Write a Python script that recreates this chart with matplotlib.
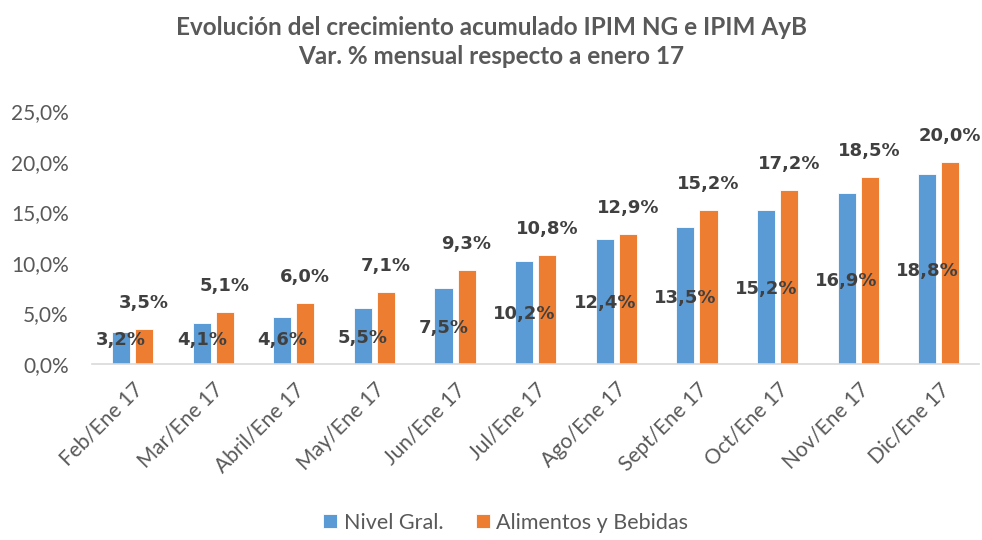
import numpy as np
import matplotlib
matplotlib.use("Agg")
import matplotlib.pyplot as plt
from matplotlib.ticker import FuncFormatter

# data
categorias = ["Feb/Ene 17", "Mar/Ene 17", "Abril/Ene 17", "May/Ene 17", "Jun/Ene 17",
              "Jul/Ene 17", "Ago/Ene 17", "Sept/Ene 17", "Oct/Ene 17", "Nov/Ene 17",
              "Dic/Ene 17"]
nivel_gral = [3.2, 4.1, 4.6, 5.5, 7.5, 10.2, 12.4, 13.5, 15.2, 16.9, 18.8]
alimentos = [3.5, 5.1, 6.0, 7.1, 9.3, 10.8, 12.9, 15.2, 17.2, 18.5, 20.0]
serie_labels = ["Nivel Gral.", "Alimentos y Bebidas"]
yticks = [0, 5, 10, 15, 20, 25]

BLUE = "#5B9BD5"
ORANGE = "#ED7D31"
GRAY = "#595959"
DARK = "#404040"

plt.rcParams['font.family'] = ['Lato', 'DejaVu Sans']

fig = plt.figure(figsize=(9.82, 5.4), dpi=100)
ax = fig.add_axes([0.094, 0.326, 0.903, 0.468])

x = np.arange(len(categorias))
w = 0.225
b1 = ax.bar(x - 0.143, nivel_gral, w, color=BLUE, edgecolor="white", linewidth=0.6,
            label=serie_labels[0], zorder=2)
b2 = ax.bar(x + 0.143, alimentos, w, color=ORANGE, edgecolor="white", linewidth=0.6,
            label=serie_labels[1], zorder=2)

def fmt(v):
    return ("%.1f%%" % v).replace(".", ",")

# blue labels: centred in bar (clamped for short bars)
for xi, v in zip(x, nivel_gral):
    ax.text(xi - 0.143, max(v / 2 - 0.2, 2.4), fmt(v), ha="center", va="center",
            fontsize=13, fontweight="bold", color=DARK, family="DejaVu Sans", zorder=3)
# orange labels above bars
for xi, v in zip(x, alimentos):
    ax.annotate(fmt(v), (xi + 0.143, v), xytext=(0, 26), textcoords="offset pixels",
                ha="center", va="center", fontsize=13, fontweight="bold", color=DARK,
                family="DejaVu Sans", zorder=3)

ax.set_xlim(-0.5, len(categorias) - 0.5)
ax.set_ylim(0, 25)
ax.set_yticks(yticks)
ax.yaxis.set_major_formatter(FuncFormatter(lambda v, p: fmt(v)))
ax.set_xticks(x)
ax.set_xticklabels(categorias, rotation=45, ha="right", rotation_mode="anchor")

for s in ["top", "right", "left"]:
    ax.spines[s].set_visible(False)
ax.spines["bottom"].set_color("#D9D9D9")
ax.spines["bottom"].set_linewidth(1.2)
ax.tick_params(axis="both", length=0, colors=GRAY)
ax.tick_params(axis="x", pad=11, labelsize=15)
ax.tick_params(axis="y", pad=17, labelsize=15)

fig.text(0.5, 0.922, "Evolución del crecimiento acumulado IPIM NG e IPIM AyB\nVar. % mensual respecto a enero 17",
         ha="center", va="center", fontsize=17.5, fontweight="bold", color=GRAY, linespacing=1.3)

fig.legend(handles=[b1, b2], loc="center", bbox_to_anchor=(0.515, 0.032), ncol=2,
           frameon=False, fontsize=15.5, labelcolor=GRAY, handlelength=0.65, handleheight=0.65,
           handletextpad=0.3, columnspacing=1.5)

fig.savefig("out.png", dpi=100)
